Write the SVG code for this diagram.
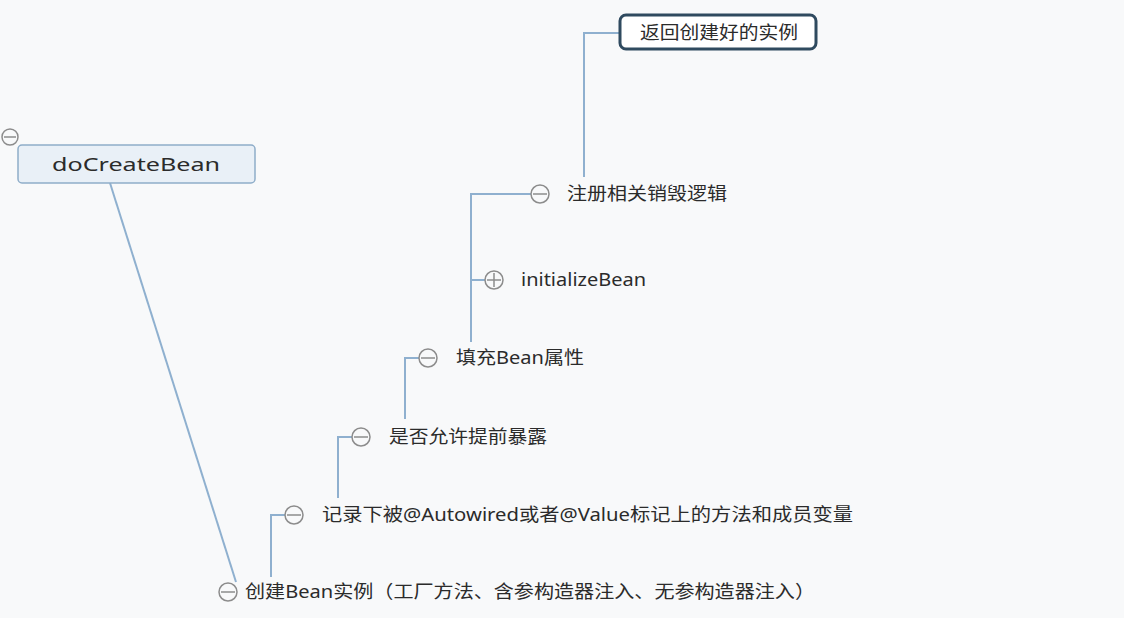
<svg xmlns="http://www.w3.org/2000/svg" width="1124" height="618" viewBox="0 0 1124 618">
<style>
.bg{fill:#f8f9fa}
.conn{fill:none;stroke:#8fb0cf;stroke-width:2}
.tog{fill:#f8f9fa;stroke:#8c8c8c;stroke-width:1.5}
.tl{stroke:#8c8c8c;stroke-width:1.5}
.t{font-family:"Noto Sans","Noto Sans CJK SC",sans-serif;font-size:18px;fill:#2b2b2b}
.root{fill:#e9f0f7;stroke:#8eadc9;stroke-width:1.5}
.top{fill:#ffffff;stroke:#2f4a5f;stroke-width:3}
</style>
<rect class="bg" x="0" y="0" width="1124" height="618"/>
<g id="connectors">
  <line class="conn" x1="110" y1="183" x2="236" y2="582"/>
  <polyline class="conn" points="271,577 271,515 285,515"/>
  <polyline class="conn" points="338,498 338,437 352,437"/>
  <polyline class="conn" points="405,419 405,358 419,358"/>
  <polyline class="conn" points="471,342 471,194 531,194"/>
  <line class="conn" x1="471" y1="280" x2="485" y2="280"/>
  <polyline class="conn" points="584,177 584,33 620,33"/>
</g>
<g id="root">
  <circle class="tog" cx="10" cy="137" r="8"/>
  <line class="tl" x1="4" y1="137" x2="16" y2="137"/>
  <rect class="root" x="18" y="145" width="237" height="38" rx="4"/>
  <text class="t" x="136" y="171" text-anchor="middle" font-size="20" textLength="168" lengthAdjust="spacingAndGlyphs">doCreateBean</text>
</g>
<g id="n1">
  <circle class="tog" cx="228" cy="592" r="9"/>
  <line class="tl" x1="221" y1="592" x2="235" y2="592"/>
  <text class="t" x="245" y="598" textLength="570" lengthAdjust="spacingAndGlyphs">创建Bean实例（工厂方法、含参构造器注入、无参构造器注入）</text>
</g>
<g id="n2">
  <circle class="tog" cx="294" cy="515" r="9"/>
  <line class="tl" x1="287" y1="515" x2="301" y2="515"/>
  <text class="t" x="322" y="521" textLength="531" lengthAdjust="spacingAndGlyphs">记录下被@Autowired或者@Value标记上的方法和成员变量</text>
</g>
<g id="n3">
  <circle class="tog" cx="361" cy="437" r="9"/>
  <line class="tl" x1="354" y1="437" x2="368" y2="437"/>
  <text class="t" x="389" y="443" textLength="158" lengthAdjust="spacingAndGlyphs">是否允许提前暴露</text>
</g>
<g id="n4">
  <circle class="tog" cx="428" cy="358" r="9"/>
  <line class="tl" x1="421" y1="358" x2="435" y2="358"/>
  <text class="t" x="456" y="364" textLength="128" lengthAdjust="spacingAndGlyphs">填充Bean属性</text>
</g>
<g id="n5">
  <circle class="tog" cx="494" cy="280" r="9"/>
  <line class="tl" x1="487" y1="280" x2="501" y2="280"/>
  <line class="tl" x1="494" y1="273" x2="494" y2="287"/>
  <text class="t" x="521" y="286" textLength="125" lengthAdjust="spacingAndGlyphs">initializeBean</text>
</g>
<g id="n6">
  <circle class="tog" cx="540" cy="194" r="9"/>
  <line class="tl" x1="533" y1="194" x2="547" y2="194"/>
  <text class="t" x="567" y="200" textLength="160" lengthAdjust="spacingAndGlyphs">注册相关销毁逻辑</text>
</g>
<g id="n7">
  <rect class="top" x="620" y="15" width="196" height="34" rx="6"/>
  <text class="t" x="640" y="39" textLength="158" lengthAdjust="spacingAndGlyphs">返回创建好的实例</text>
</g>
</svg>
